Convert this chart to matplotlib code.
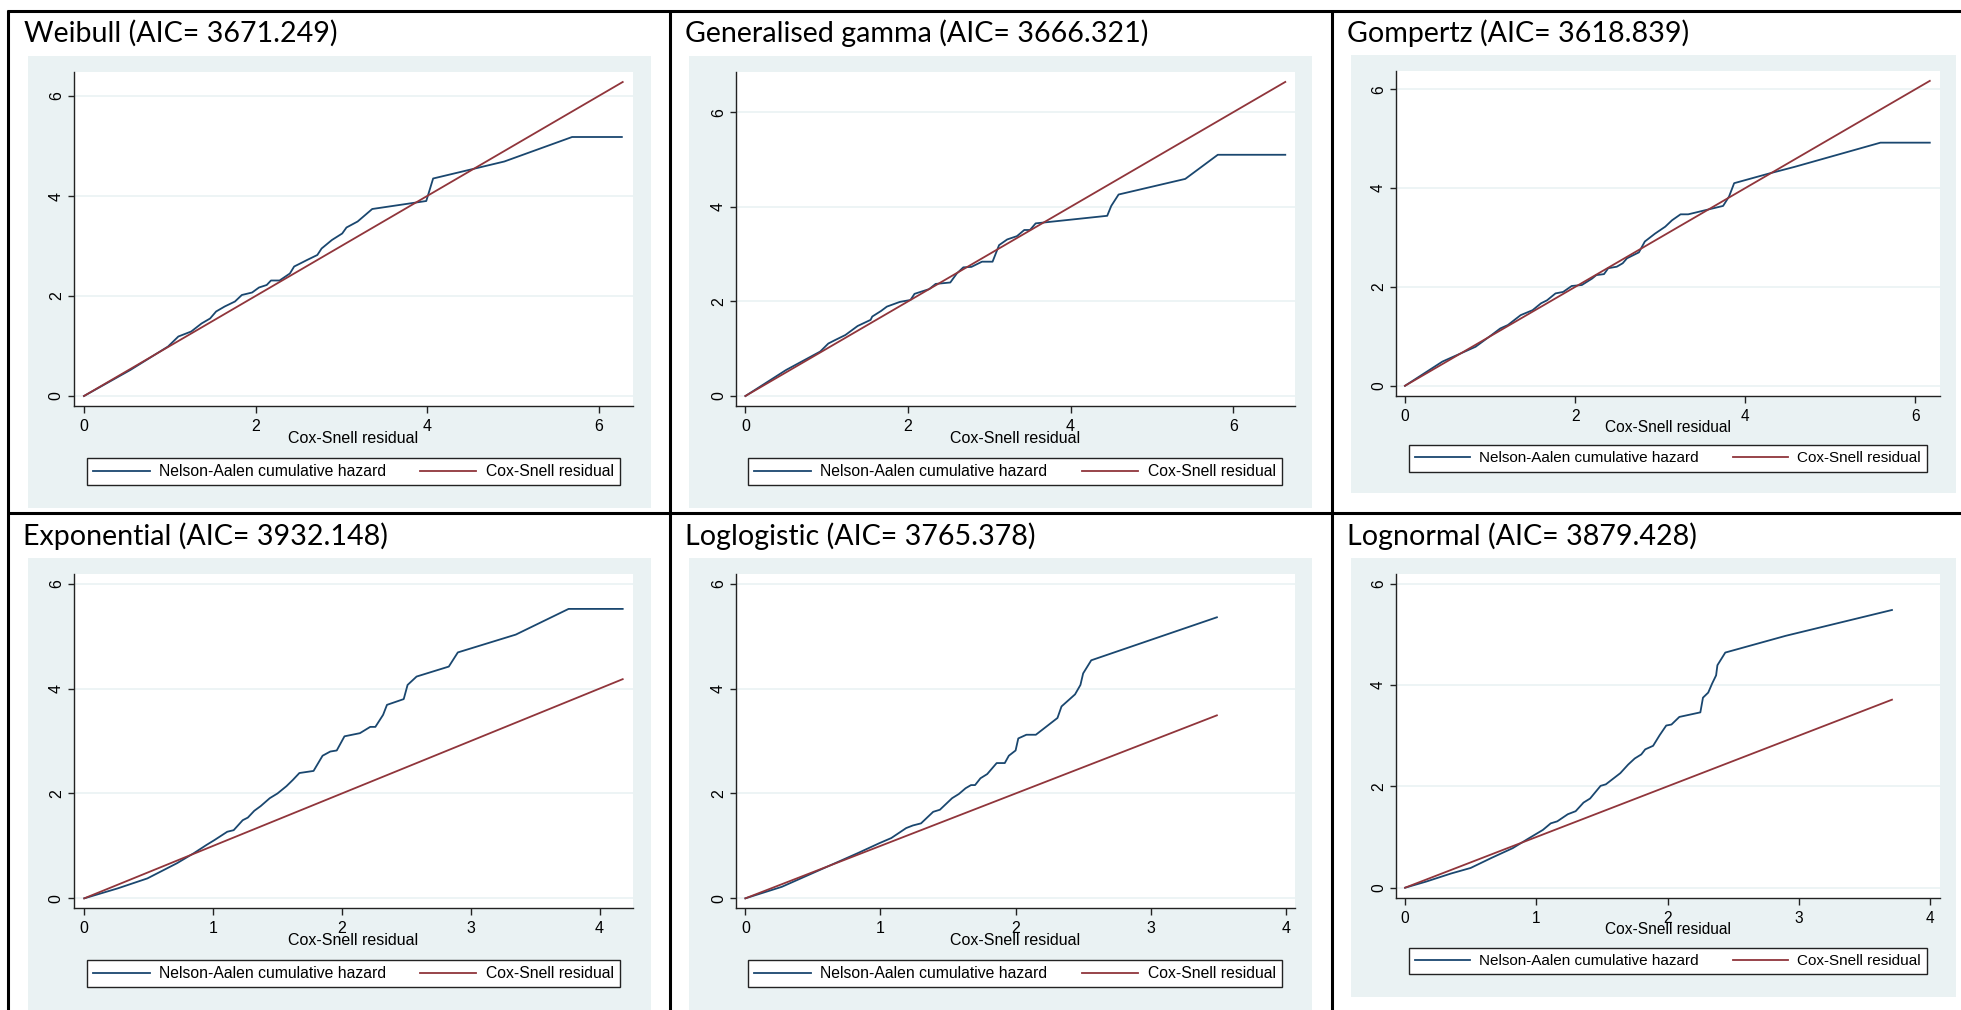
import numpy as np
import matplotlib.pyplot as plt
from matplotlib.patches import Rectangle
from matplotlib.lines import Line2D

# Cox-Snell residual diagnostics for six parametric survival models

models = ['Weibull', 'Generalised gamma', 'Gompertz',
          'Exponential', 'Loglogistic', 'Lognormal']
aic = [3671.249, 3666.321, 3618.839, 3932.148, 3765.378, 3879.428]
cs_max = [6.28, 6.64, 6.17, 4.18, 3.49, 3.71]   # largest Cox-Snell residual per model

weibull_x = [0, 0.54, 0.98, 1.10, 1.25, 1.37, 1.47, 1.54, 1.64, 1.76, 1.84, 1.96,
             2.04, 2.13, 2.18, 2.28, 2.40, 2.45, 2.52, 2.60, 2.72, 2.77, 2.89, 3.01,
             3.06, 3.19, 3.36, 3.99, 4.07, 4.90, 5.69, 6.27]
weibull_y = [0, 0.52, 0.99, 1.19, 1.29, 1.45, 1.55, 1.69, 1.79, 1.89, 2.02, 2.07,
             2.17, 2.22, 2.31, 2.31, 2.45, 2.59, 2.65, 2.72, 2.82, 2.95, 3.12, 3.25,
             3.37, 3.49, 3.74, 3.90, 4.35, 4.69, 5.18, 5.18]

gengamma_x = [0, 0.50, 0.92, 1.02, 1.10, 1.23, 1.38, 1.54, 1.56, 1.67, 1.74, 1.90,
              2.03, 2.08, 2.26, 2.34, 2.52, 2.60, 2.68, 2.78, 2.91, 3.04, 3.12, 3.22,
              3.34, 3.43, 3.50, 3.57, 4.45, 4.50, 4.59, 5.41, 5.81, 6.64]
gengamma_y = [0, 0.55, 0.94, 1.11, 1.18, 1.29, 1.48, 1.61, 1.68, 1.80, 1.89, 1.99,
              2.03, 2.16, 2.26, 2.37, 2.40, 2.59, 2.72, 2.73, 2.84, 2.84, 3.19, 3.31,
              3.38, 3.51, 3.51, 3.65, 3.81, 4.02, 4.26, 4.59, 5.10, 5.10]

gompertz_x = [0, 0.44, 0.83, 1.02, 1.12, 1.21, 1.36, 1.50, 1.60, 1.67, 1.77, 1.86,
              1.96, 2.08, 2.20, 2.25, 2.34, 2.39, 2.49, 2.56, 2.61, 2.75, 2.82, 2.94,
              3.06, 3.14, 3.24, 3.33, 3.74, 3.81, 3.87, 4.29, 4.58, 5.59, 6.17]
gompertz_y = [0, 0.49, 0.79, 1.03, 1.16, 1.23, 1.43, 1.53, 1.67, 1.73, 1.87, 1.90,
              2.02, 2.04, 2.17, 2.24, 2.26, 2.38, 2.41, 2.48, 2.58, 2.70, 2.92, 3.08,
              3.22, 3.35, 3.47, 3.47, 3.64, 3.83, 4.10, 4.30, 4.43, 4.92, 4.92]

expon_x = [0, 0.26, 0.49, 0.72, 0.85, 0.95, 1.01, 1.11, 1.16, 1.23, 1.27, 1.32,
           1.37, 1.44, 1.50, 1.57, 1.62, 1.67, 1.78, 1.85, 1.91, 1.96, 2.02, 2.14,
           2.22, 2.26, 2.32, 2.35, 2.48, 2.51, 2.58, 2.83, 2.90, 3.35, 3.76, 4.18]
expon_y = [0, 0.19, 0.38, 0.67, 0.86, 1.02, 1.11, 1.27, 1.30, 1.49, 1.54, 1.67,
           1.76, 1.91, 2.00, 2.14, 2.26, 2.39, 2.43, 2.72, 2.80, 2.82, 3.09, 3.15,
           3.27, 3.27, 3.50, 3.69, 3.80, 4.07, 4.23, 4.42, 4.69, 5.03, 5.52, 5.52]

loglog_x = [0, 0.27, 0.55, 0.83, 0.99, 1.08, 1.19, 1.24, 1.30, 1.39, 1.44, 1.53,
            1.58, 1.63, 1.67, 1.70, 1.74, 1.79, 1.86, 1.92, 1.95, 2.00, 2.02, 2.08,
            2.15, 2.31, 2.34, 2.44, 2.48, 2.50, 2.56, 3.07, 3.49]
loglog_y = [0, 0.22, 0.54, 0.86, 1.05, 1.15, 1.34, 1.39, 1.43, 1.65, 1.69, 1.91,
            1.99, 2.10, 2.16, 2.16, 2.29, 2.37, 2.58, 2.58, 2.72, 2.82, 3.05, 3.12,
            3.12, 3.44, 3.66, 3.89, 4.07, 4.29, 4.54, 4.99, 5.36]

lognorm_x = [0, 0.16, 0.35, 0.50, 0.66, 0.82, 0.94, 1.05, 1.11, 1.16, 1.24, 1.30,
             1.36, 1.41, 1.49, 1.53, 1.58, 1.64, 1.70, 1.75, 1.80, 1.83, 1.89, 1.94,
             1.99, 2.03, 2.09, 2.25, 2.27, 2.31, 2.34, 2.37, 2.38, 2.44, 2.90, 3.71]
lognorm_y = [0, 0.12, 0.28, 0.39, 0.59, 0.78, 0.97, 1.14, 1.27, 1.31, 1.45, 1.51,
             1.68, 1.76, 2.01, 2.04, 2.14, 2.26, 2.43, 2.55, 2.63, 2.73, 2.80, 3.01,
             3.20, 3.22, 3.37, 3.46, 3.75, 3.85, 4.03, 4.19, 4.39, 4.64, 4.97, 5.48]

na_x = [weibull_x, gengamma_x, gompertz_x, expon_x, loglog_x, lognorm_x]
na_y = [weibull_y, gengamma_y, gompertz_y, expon_y, loglog_y, lognorm_y]

# layout in pixels of the 1961x1010 canvas
W, H = 1961, 1010
title_pos = [(24, 42), (685, 42), (1347, 42), (23, 545), (685, 545), (1347, 545)]
bg_box = [(28, 56, 651, 508), (689, 56, 1312, 508), (1351, 55, 1956, 493),
          (28, 558, 651, 1012), (689, 558, 1312, 1012), (1351, 558, 1956, 997)]
ax_box = [(73.7, 72, 633, 406), (735.8, 72, 1294.7, 406), (1395.6, 71, 1940, 395.7),
          (73.7, 574.3, 633, 908.3), (735.8, 574.3, 1294.7, 908.3), (1395.6, 574, 1940, 897.7)]
leg_box = [(87, 457, 620, 486), (748, 457, 1282, 486), (1409, 444, 1927, 473),
           (87, 959, 620, 988), (748, 959, 1282, 988), (1409, 947, 1927, 975)]
scale = [1, 1, 0.971, 1, 1, 0.971]   # the right-hand graphs were pasted slightly smaller
xlims = [(-0.12, 6.40), (-0.118, 6.756), (-0.11, 6.29),
         (-0.082, 4.26), (-0.071, 4.066), (-0.072, 4.076)]
ylims = [(-0.2, 6.48), (-0.211, 6.85), (-0.2, 6.37),
         (-0.19, 6.18), (-0.19, 6.18), (-0.197, 6.19)]
xticks = [[0, 2, 4, 6]] * 3 + [[0, 1, 2, 3, 4]] * 3

navy = '#1A476F'
maroon = '#90353B'
bg_col = '#EAF2F3'
sans = 'Liberation Sans'


def fx(px):
    return px / W


def fy(py):
    return 1 - py / H


fig = plt.figure(figsize=(W / 100, H / 100), dpi=100)
fig.patch.set_facecolor('white')

for i in range(6):
    k = scale[i]
    bx0, by0, bx1, by1 = bg_box[i]
    fig.add_artist(Rectangle((fx(bx0), fy(by1)), (bx1 - bx0) / W, (by1 - by0) / H,
                             transform=fig.transFigure, facecolor=bg_col,
                             edgecolor='none', zorder=-2))

    tx, ty = title_pos[i]
    fig.text(fx(tx), fy(ty), f'{models[i]} (AIC= {aic[i]:.3f})',
             fontfamily='Lato', fontsize=20.6, va='baseline', ha='left')

    x0, y0, x1, y1 = ax_box[i]
    ax = fig.add_axes([fx(x0), fy(y1), (x1 - x0) / W, (y1 - y0) / H])
    ax.set_facecolor('white')
    for s in ['top', 'right']:
        ax.spines[s].set_visible(False)
    for s in ['left', 'bottom']:
        ax.spines[s].set_color('#222222')
        ax.spines[s].set_linewidth(1.0)

    ax.plot(na_x[i], na_y[i], color=navy, lw=1.3)
    ax.plot([0, cs_max[i]], [0, cs_max[i]], color=maroon, lw=1.3)

    ax.set_xlim(*xlims[i])
    ax.set_ylim(*ylims[i])
    ax.set_xticks(xticks[i])
    ax.set_yticks([0, 2, 4, 6])
    ax.yaxis.grid(True, color=bg_col, lw=1.2)
    ax.set_axisbelow(True)
    ax.tick_params(axis='both', direction='out', color='#222222', width=1.0,
                   labelsize=11.5 * k)
    ax.tick_params(axis='x', length=5 * k, pad=4.5 * k)
    ax.tick_params(axis='y', length=4.6 * k, pad=2.5 * k, labelrotation=90)
    for lab in ax.get_xticklabels() + ax.get_yticklabels():
        lab.set_fontfamily(sans)
    for lab in ax.get_yticklabels():
        lab.set_va('center')
    ax.set_xlabel('Cox-Snell residual', fontfamily=sans, fontsize=11.5 * k, labelpad=-2.5)

    lx0, ly0, lx1, ly1 = leg_box[i]
    handles = [Line2D([], [], color=navy, lw=1.3), Line2D([], [], color=maroon, lw=1.3)]
    leg = ax.legend(handles, ['Nelson-Aalen cumulative hazard', 'Cox-Snell residual'],
                    loc='center', ncol=2, mode='expand',
                    bbox_to_anchor=(fx(lx0), fy(ly1), (lx1 - lx0) / W, (ly1 - ly0) / H),
                    bbox_transform=fig.transFigure, borderaxespad=0,
                    frameon=True, fancybox=False, framealpha=1, edgecolor='#222222',
                    borderpad=0.4, handlelength=3.6, handletextpad=0.6,
                    prop={'family': sans, 'size': 11.3 * k})
    leg.get_frame().set_linewidth(1.0)

# table rules
rule = dict(transform=fig.transFigure, color='black', lw=2.2, solid_capstyle='butt')
for vx in [8, 670, 1332]:
    fig.add_artist(Line2D([fx(vx), fx(vx)], [fy(10), fy(1010)], **rule))
for hy in [11, 513]:
    fig.add_artist(Line2D([fx(7), fx(1961)], [fy(hy), fy(hy)], **rule))

fig.savefig('out.png', dpi=100, facecolor='white')
